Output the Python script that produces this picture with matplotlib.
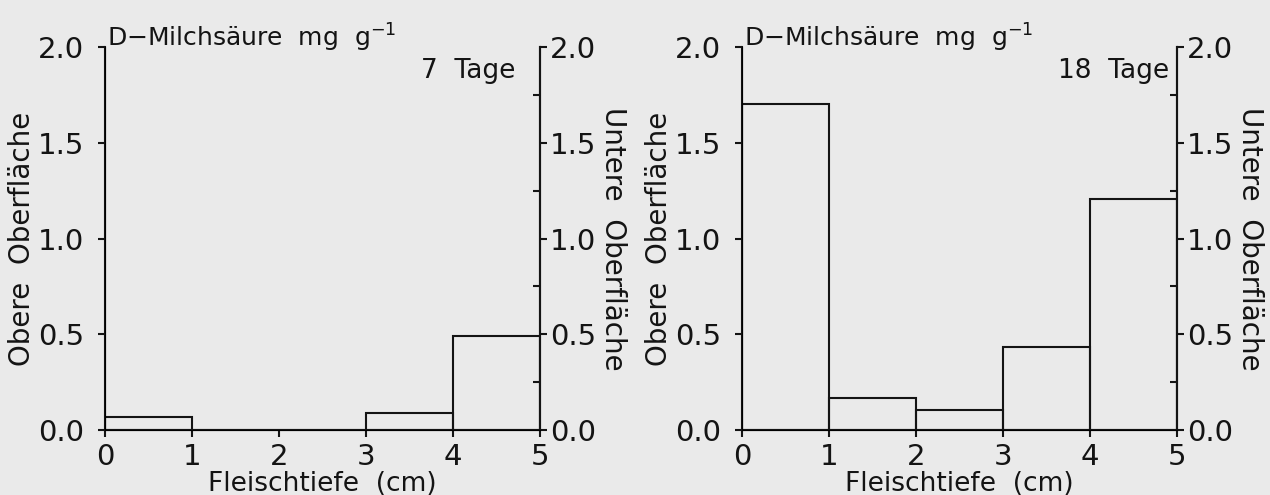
import matplotlib
matplotlib.use('Agg')
import matplotlib.pyplot as plt
from matplotlib.ticker import MultipleLocator

# Fleischtiefe bins (cm) and D-Milchsaeure contents (mg/g)
depth_edges = [0, 1, 2, 3, 4]
tage_7 = [0.07, 0.0, 0.0, 0.09, 0.49]
tage_18 = [1.70, 0.165, 0.105, 0.435, 1.205]
panel_labels = ['7  Tage', '18  Tage']
x_ticks = [0, 1, 2, 3, 4, 5]
y_ticks = [0.0, 0.5, 1.0, 1.5, 2.0]

bg = '#eaeaea'
ink = '#141414'
plt.rcParams['font.family'] = ['DejaVu Sans']

fig = plt.figure(figsize=(12.7, 4.95), dpi=100, facecolor=bg)

positions = [[0.0827, 0.1313, 0.3425, 0.7737],
             [0.5843, 0.1313, 0.3425, 0.7737]]
label_x = [0.943, 0.982]


def draw_panel(pos, values, label, lx):
    ax = fig.add_axes(pos)
    ax.set_facecolor(bg)
    ax.bar(depth_edges, values, width=1, align='edge', fill=False,
           edgecolor=ink, linewidth=1.5)
    ax.set_xlim(0, 5)
    ax.set_ylim(0, 2.0)
    ax.spines['top'].set_visible(False)
    for s in ['left', 'bottom', 'right']:
        ax.spines[s].set_linewidth(1.5)
        ax.spines[s].set_color(ink)
    ax.set_xticks(x_ticks)
    ax.set_yticks(y_ticks)
    ax.set_yticklabels(['%.1f' % v for v in y_ticks])
    ax.tick_params(axis='x', direction='out', length=5, width=1.5, pad=4,
                   labelsize=21, colors=ink)
    ax.tick_params(axis='y', direction='out', length=5, width=1.5, pad=10,
                   labelsize=21, colors=ink)
    ax.set_xlabel('Fleischtiefe  (cm)', fontsize=19, labelpad=0, color=ink)
    ax.set_ylabel('Obere  Oberfläche', fontsize=20, labelpad=1, color=ink)

    ax2 = ax.twinx()
    ax2.set_ylim(0, 2.0)
    ax2.spines['top'].set_visible(False)
    ax2.spines['right'].set_linewidth(1.5)
    ax2.spines['right'].set_color(ink)
    ax2.set_yticks(y_ticks)
    ax2.set_yticklabels(['%.1f' % v for v in y_ticks])
    ax2.yaxis.set_minor_locator(MultipleLocator(0.25))
    ax2.tick_params(axis='y', which='major', direction='out', length=5,
                    width=1.5, pad=2, labelsize=21, colors=ink)
    ax2.tick_params(axis='y', which='minor', direction='in', length=5,
                    width=1.5, colors=ink)
    ax2.set_ylabel('Untere  Oberfläche', fontsize=20, rotation=-90,
                   labelpad=22, color=ink)

    ax.text(0.005, 1.0, 'D−Milchsäure  mg  g$^{-1}$', transform=ax.transAxes,
            fontsize=18, ha='left', va='baseline', color=ink)
    ax.text(lx, 0.937, label, transform=ax.transAxes, fontsize=19,
            ha='right', va='center', color=ink)


draw_panel(positions[0], tage_7, panel_labels[0], label_x[0])
draw_panel(positions[1], tage_18, panel_labels[1], label_x[1])

fig.savefig('out.png', dpi=100, facecolor=bg)
